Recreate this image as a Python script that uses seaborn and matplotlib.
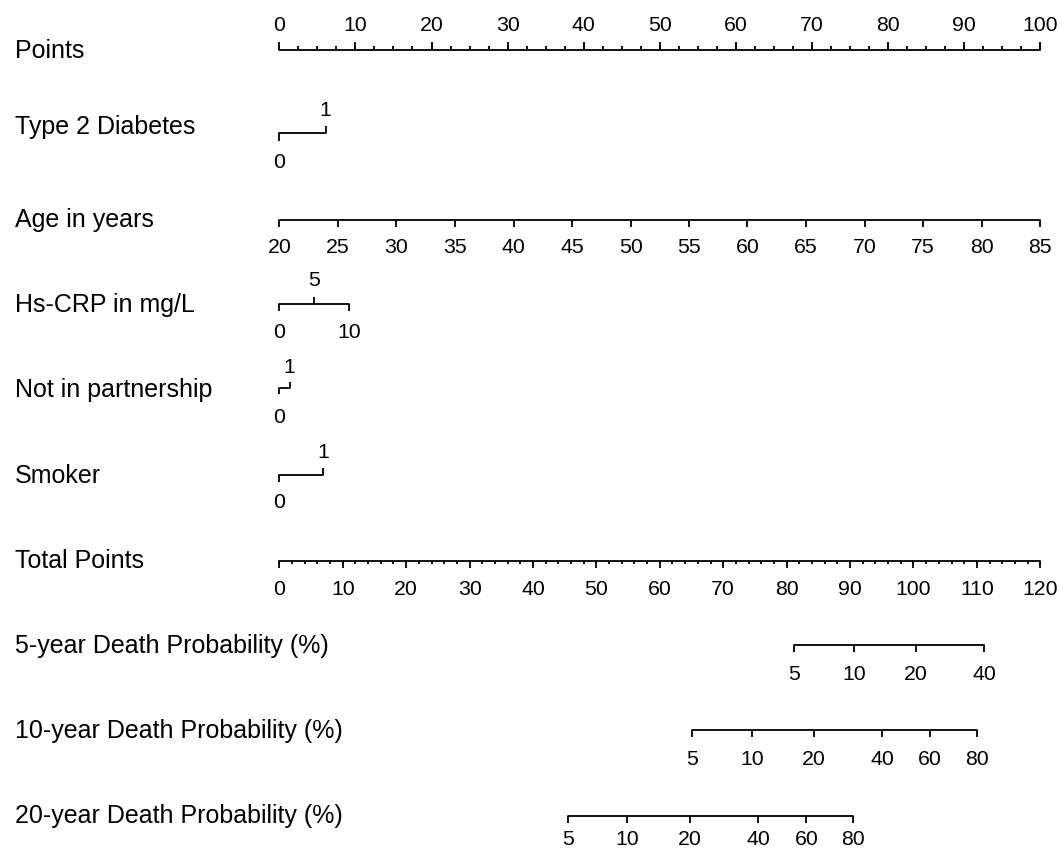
import numpy as np
import pandas as pd
import matplotlib
matplotlib.use("Agg")
import matplotlib.pyplot as plt
import seaborn as sns

# ---------------- data ----------------
points_ticks = [0, 10, 20, 30, 40, 50, 60, 70, 80, 90, 100]
points_minor = list(np.arange(0, 100.01, 2.5))

diabetes_labels = ["0", "1"]
diabetes_pts = [0.0, 6.1]

age_labels = ["20", "25", "30", "35", "40", "45", "50", "55", "60", "65", "70", "75", "80", "85"]
age_pts = [0.0, 7.7, 15.4, 23.1, 30.8, 38.5, 46.2, 53.8, 61.5, 69.2, 76.9, 84.6, 92.3, 100.0]

crp_labels = ["0", "5", "10"]
crp_pts = [0.0, 4.6, 9.2]

partner_labels = ["0", "1"]
partner_pts = [0.0, 1.35]

smoker_labels = ["0", "1"]
smoker_pts = [0.0, 5.8]

total_ticks = [0, 10, 20, 30, 40, 50, 60, 70, 80, 90, 100, 110, 120]
total_minor = list(range(0, 121, 2))
total_max = 120

p5_labels = ["5", "10", "20", "40"]
p5_total = [81.2, 90.6, 100.4, 111.2]

p10_labels = ["5", "10", "20", "40", "60", "80"]
p10_total = [65.1, 74.6, 84.3, 95.1, 102.6, 110.0]

p20_labels = ["5", "10", "20", "40", "60", "80"]
p20_total = [45.5, 54.9, 64.8, 75.5, 83.1, 90.5]

# ---------------- style ----------------
sns.set_theme(style="white")
plt.rcParams["font.family"] = ["Liberation Sans", "DejaVu Sans"]

W, H = 1060, 850
fig = plt.figure(figsize=(W / 100, H / 100), dpi=100)
ax = fig.add_axes([0, 0, 1, 1])
x0_px, pxpp = 279.3, 7.61           # pixel of 0 points, pixels per point
ax.set_xlim(-x0_px / pxpp, (W - x0_px) / pxpp)
ax.set_ylim(H, 0)
ax.axis("off")

LW = 1.3
COL = "black"
FS_VAR = 18
FS_AX = 15.3
label_x = (15 - x0_px) / pxpp


def t2p(v):
    """total points -> points scale"""
    return np.asarray(v, dtype=float) * 100.0 / total_max


def base_line(xs, y):
    df = pd.DataFrame({"x": [min(xs), max(xs)], "y": [y, y]})
    sns.lineplot(data=df, x="x", y="y", ax=ax, color=COL, lw=LW,
                 estimator=None, sort=False, legend=False)


def ticks(xs, y, length, direction):
    # direction: +1 downwards in pixels, -1 upwards
    ax.vlines(xs, y, y + direction * length, color=COL, lw=LW)


def labels(xs, labs, y, fs=FS_AX):
    for x, s in zip(xs, labs):
        ax.text(x, y, s, ha="center", va="baseline", fontsize=fs, color=COL)


def row_label(text, y):
    ax.text(label_x, y, text, ha="left", va="baseline", fontsize=FS_VAR, color=COL)


# Points
row_label("Points", 58.3)
base_line(points_ticks, 50)
ticks(points_minor, 50, 4, -1)
ticks(points_ticks, 50, 8, -1)
labels(points_ticks, [str(v) for v in points_ticks], 31)

# Type 2 Diabetes (alternating)
row_label("Type 2 Diabetes", 134.3)
base_line(diabetes_pts, 133.3)
ticks([diabetes_pts[0]], 133.3, 8, 1)
ticks([diabetes_pts[1]], 133.3, 7, -1)
labels([diabetes_pts[0]], [diabetes_labels[0]], 168.3)
labels([diabetes_pts[1]], [diabetes_labels[1]], 116)

# Age
row_label("Age in years", 226.7)
base_line(age_pts, 220)
ticks(age_pts, 220, 7, 1)
labels(age_pts, age_labels, 253.3)

# Hs-CRP
row_label("Hs-CRP in mg/L", 311.7)
base_line(crp_pts, 304.3)
ticks([crp_pts[0], crp_pts[2]], 304.3, 7, 1)
ticks([crp_pts[1]], 304.3, 7, -1)
labels([crp_pts[0], crp_pts[2]], [crp_labels[0], crp_labels[2]], 337.7)
labels([crp_pts[1]], [crp_labels[1]], 286)

# Not in partnership
row_label("Not in partnership", 396.7)
base_line(partner_pts, 387.7)
ticks([partner_pts[0]], 387.7, 6, 1)
ticks([partner_pts[1]], 387.7, 6, -1)
labels([partner_pts[0]], [partner_labels[0]], 423.3)
labels([partner_pts[1]], [partner_labels[1]], 373.3)

# Smoker
row_label("Smoker", 483.3)
base_line(smoker_pts, 475)
ticks([smoker_pts[0]], 475, 7, 1)
ticks([smoker_pts[1]], 475, 7, -1)
labels([smoker_pts[0]], [smoker_labels[0]], 508.3)
labels([smoker_pts[1]], [smoker_labels[1]], 458.3)

# Total Points
row_label("Total Points", 568.3)
base_line(t2p(total_ticks), 560.5)
ticks(t2p(total_minor), 560.5, 3.5, 1)
ticks(t2p(total_ticks), 560.5, 7, 1)
labels(t2p(total_ticks), [str(v) for v in total_ticks], 595)

# Probability axes
for name, labs, tot, ly, lb, rb in [
    ("5-year Death Probability (%)", p5_labels, p5_total, 645, 680, 653),
    ("10-year Death Probability (%)", p10_labels, p10_total, 730, 765, 738),
    ("20-year Death Probability (%)", p20_labels, p20_total, 816, 845, 823),
]:
    row_label(name, rb)
    xs = t2p(tot)
    base_line(xs, ly)
    ticks(xs, ly, 7, 1)
    labels(xs, labs, lb)

fig.savefig("out.png", dpi=100, facecolor="white")
